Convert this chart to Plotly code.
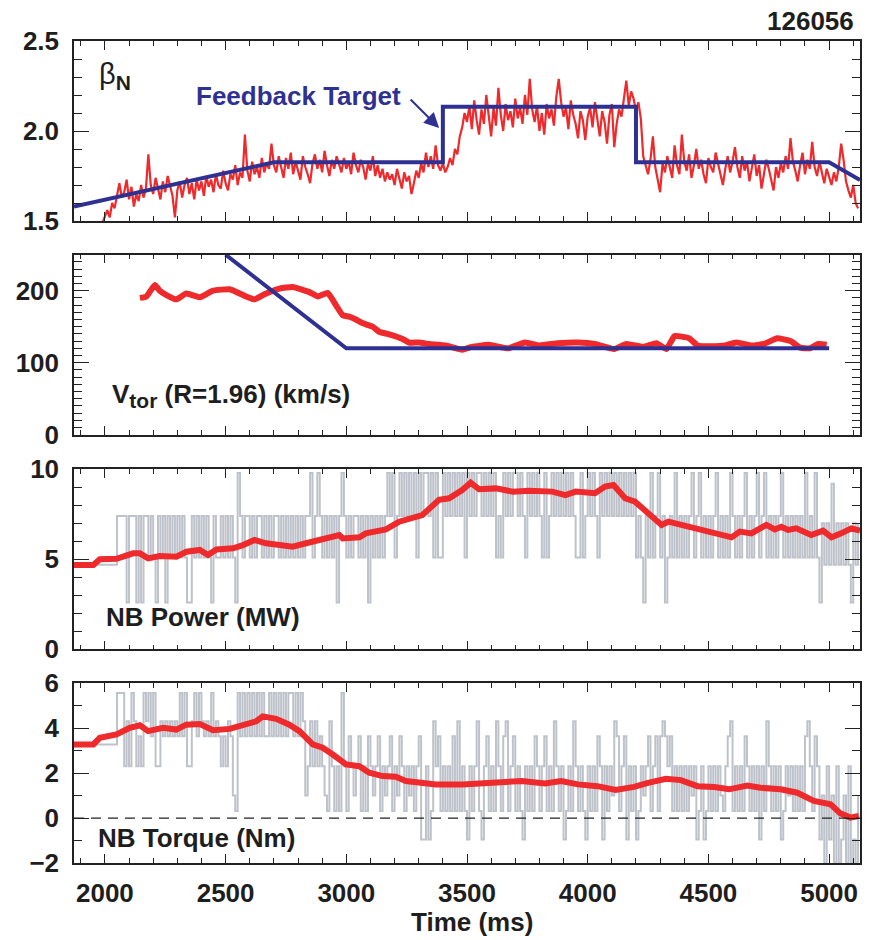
import plotly.graph_objects as go

# ---------------- data ----------------
beta_t = list(range(1990, 5121, 10))
beta_n = [
    1.49, 1.53, 1.56, 1.52, 1.60, 1.57, 1.64, 1.71, 1.63, 1.66, 1.73, 1.62, 1.69, 1.58, 1.65, 1.61, 1.70, 1.63, 1.68, 1.87,
    1.70, 1.65, 1.74, 1.68, 1.62, 1.72, 1.66, 1.75, 1.69, 1.64, 1.52, 1.67, 1.72, 1.63, 1.70, 1.74, 1.65, 1.71, 1.62, 1.73,
    1.67, 1.72, 1.64, 1.75, 1.69, 1.73, 1.66, 1.76, 1.70, 1.68, 1.78, 1.71, 1.67, 1.76, 1.73, 1.81, 1.70, 1.77, 1.74, 1.98,
    1.78, 1.72, 1.83, 1.76, 1.80, 1.74, 1.85, 1.77, 1.82, 1.79, 1.93, 1.81, 1.77, 1.86, 1.80, 1.74, 1.85, 1.79, 1.88, 1.76,
    1.83, 1.78, 1.73, 1.86, 1.80, 1.76, 1.71, 1.82, 1.87, 1.79, 1.84, 1.77, 1.89, 1.81, 1.75, 1.84, 1.79, 1.86, 1.82, 1.77,
    1.85, 1.79, 1.83, 1.76, 1.88, 1.81, 1.77, 1.84, 1.80, 1.73, 1.82, 1.78, 1.86, 1.75, 1.81, 1.74, 1.79, 1.72, 1.77, 1.73,
    1.76, 1.70, 1.79, 1.73, 1.68, 1.77, 1.72, 1.75, 1.65, 1.71, 1.78, 1.74, 1.82, 1.77, 1.88, 1.80, 1.86, 1.79, 1.92, 1.81,
    1.78, 1.82, 1.77, 1.80, 1.85, 1.81, 1.90, 1.87, 1.97, 2.02, 2.10, 2.05, 2.14, 2.01, 2.17, 2.06, 1.98, 2.12, 2.04, 2.20,
    2.08, 1.97, 2.13, 2.03, 2.24, 2.09, 2.00, 2.15, 2.06, 2.11, 2.02, 2.18, 2.07, 2.13, 2.04, 2.20, 2.09, 2.29, 2.12, 2.05,
    2.14, 2.00, 2.10, 1.98, 2.15, 2.07, 2.12, 2.03, 2.19, 2.29, 2.16, 2.08, 2.13, 2.01, 2.17, 2.09, 2.04, 1.96, 2.11, 2.06,
    1.95, 2.08, 2.13, 2.02, 2.16, 2.07, 1.97, 2.11, 2.05, 1.93, 2.09, 2.15, 1.91, 2.04, 2.12, 2.08, 2.17, 2.28, 2.14, 2.22,
    2.18, 2.11, 2.16, 2.07, 1.86, 1.81, 1.76, 1.84, 1.97, 1.80, 1.73, 1.66, 1.82, 1.77, 1.86, 1.79, 1.74, 1.92, 1.81, 1.76,
    1.98, 1.83, 1.78, 1.87, 1.74, 1.81, 1.90, 1.79, 1.84, 1.76, 1.71, 1.85, 1.80, 1.77, 1.88, 1.82, 1.75, 1.70, 1.79, 1.86,
    1.77, 1.83, 1.91, 1.80, 1.74, 1.86, 1.78, 1.83, 1.72, 1.79, 1.87, 1.75, 1.81, 1.68, 1.76, 1.84, 1.79, 1.73, 1.67, 1.80,
    1.74, 1.82, 1.77, 1.86, 1.79, 1.96, 1.83, 1.78, 1.72, 1.81, 1.88, 1.76, 1.84, 1.79, 1.94, 1.80, 1.75, 1.83, 1.77, 1.71,
    1.79, 1.74, 1.70, 1.77, 1.72, 1.80, 1.93, 1.84, 1.72, 1.67, 1.63, 1.70, 1.60, 1.57,
]
beta_target_t = [1872, 2700, 3400, 3400, 4200, 4200, 5000, 5128]
beta_target = [1.58, 1.826, 1.826, 2.135, 2.135, 1.826, 1.826, 1.728]

vtor_t = [2145, 2172, 2207, 2227, 2255, 2296, 2337, 2393, 2448, 2517,
          2585, 2620, 2661, 2723, 2778, 2847, 2882, 2923, 2957, 2985,
          3012, 3040, 3067, 3109, 3136, 3171, 3233, 3260, 3302, 3343,
          3411, 3480, 3520, 3590, 3670, 3740, 3800, 3876, 3960, 4030,
          4110, 4160, 4230, 4285, 4326, 4360, 4420, 4455, 4510, 4570,
          4615, 4680, 4730, 4785, 4840, 4880, 4920, 4955, 4990]
vtor = [190, 192, 208, 200, 194, 188, 196, 191, 200, 202,
        192, 188, 195, 203, 205, 198, 192, 197, 180, 166,
        164, 160, 155, 150, 143, 140, 133, 128, 128, 126,
        124, 118, 122, 125, 120, 128, 124, 127, 128, 126,
        119, 126, 122, 127, 119, 137, 134, 124, 123, 124,
        128, 124, 126, 134, 130, 121, 120, 126, 125]
vtor_target_t = [2500, 3000, 5000]
vtor_target = [250, 120, 120]

pnb_t = [1872, 1952, 1979, 2048, 2117, 2145, 2179, 2227, 2296, 2338,
         2393, 2427, 2462, 2531, 2572, 2620, 2668, 2737, 2778, 2833,
         2875, 2916, 2944, 2971, 2985, 3054, 3081, 3164, 3219, 3260,
         3315, 3343, 3384, 3426, 3480, 3515, 3550, 3620, 3690, 3757,
         3853, 3908, 3950, 4030, 4072, 4107, 4155, 4196, 4251, 4306,
         4334, 4417, 4486, 4540, 4596, 4630, 4678, 4740, 4775, 4802,
         4830, 4864, 4926, 4975, 5010, 5050, 5092, 5128]
pnb = [4.68, 4.68, 5.00, 5.03, 5.33, 5.33, 5.05, 5.18, 5.14, 5.42,
       5.52, 5.24, 5.55, 5.61, 5.79, 6.07, 5.89, 5.79, 5.70, 5.89,
       6.03, 6.10, 6.22, 6.35, 6.16, 6.22, 6.44, 6.66, 7.09, 7.27,
       7.46, 7.80, 8.30, 8.39, 8.85, 9.26, 8.89, 8.94, 8.76, 8.81,
       8.76, 8.57, 8.76, 8.67, 9.04, 9.13, 8.39, 8.20, 7.55, 6.91,
       7.09, 6.81, 6.54, 6.35, 6.22, 6.54, 6.44, 6.91, 6.66, 6.81,
       6.63, 6.72, 6.35, 6.59, 6.22, 6.44, 6.72, 6.59]

# raw (grey) NB power, one level code per 10 ms bin from 1870 ms
pnb_raw_t = list(range(1870, 5121, 10))
pnb_raw_codes = (
    "111111111111111111" "3333" "033303033" "2320323032323232003"
    "2323232032" "2323232043" "2332323323" "2323323232" "3232323342"
    "3432323230" "3432323323" "2303232323" "4342343434" "3424344342"
    "4224343434" "3424343443" "4343423243" "4344343243" "4343242343"
    "4343434322" "4234343243" "4343434343" "4342320324" "2342302324"
    "2323234234" "2323234232" "3243232342" "3234234232" "3234232323"
    "2324232420" "6161716161" "610616"
)
pnb_levels = {"0": 2.6, "1": 4.7, "2": 5.1, "3": 7.4, "4": 9.8, "6": 7.0, "7": 9.2}

tnb_t = [1872, 1952, 1979, 2048, 2103, 2145, 2179, 2241, 2296, 2337,
         2393, 2448, 2517, 2572, 2627, 2654, 2709, 2764, 2806, 2861,
         2902, 2944, 2999, 3054, 3095, 3150, 3205, 3247, 3302, 3371,
         3480, 3617, 3727, 3823, 3890, 3960, 4040, 4116, 4192, 4250,
         4324, 4386, 4455, 4524, 4586, 4661, 4716, 4799, 4868, 4937,
         5006, 5047, 5088, 5123]
tnb = [3.28, 3.28, 3.57, 3.72, 4.02, 4.13, 3.87, 4.02, 3.94, 4.16,
       4.19, 3.91, 3.97, 4.16, 4.31, 4.53, 4.42, 4.16, 3.87, 3.28,
       3.13, 2.83, 2.39, 2.31, 2.02, 1.87, 1.84, 1.65, 1.57, 1.50,
       1.50, 1.60, 1.65, 1.54, 1.65, 1.50, 1.42, 1.25, 1.39, 1.57,
       1.75, 1.69, 1.42, 1.38, 1.28, 1.45, 1.35, 1.28, 1.13, 0.76,
       0.61, 0.21, 0.02, 0.09]

tnb_raw_t = list(range(1870, 5121, 10))
tnb_raw_codes = (
    "555555555555555555" "888" "4748746487" "8684476767676868447"
    "8687676867" "6464763286" "8686868686" "6868686868" "8686873474"
    "7464327424" "2842643462" "4264346243" "4624364243" "4246114127"
    "4624242627" "2421424721" "4624274267" "2462421424" "2642462427"
    "4241242742" "4214242641" "4243762461" "4241243462" "4626764624"
    "2424243412" "4124242432" "4672424264" "2424142742" "4241243424"
    "2426742641" "3041304013" "040103"
)
tnb_levels = {"0": -2.0, "1": -0.95, "2": 0.31, "3": 1.0, "4": 2.31,
              "5": 3.28, "6": 3.64, "7": 4.31, "8": 5.57}

x_range = [1872, 5128]

# ---------------- styles ----------------
RED = "#EE2A2C"
BLUE = "#2E3192"
GREY = "#BEC2CA"
INK = "#1e1e1e"
FONT = "Liberation Sans, Arial, Helvetica, sans-serif"

pnb_raw = [pnb_levels[c] for c in pnb_raw_codes]
tnb_raw = [tnb_levels[c] for c in tnb_raw_codes]

fig = go.Figure()

# panel 1
fig.add_trace(go.Scatter(x=beta_t, y=beta_n, mode="lines",
                         line=dict(color=RED, width=2.2), xaxis="x", yaxis="y"))
fig.add_trace(go.Scatter(x=beta_target_t, y=beta_target, mode="lines",
                         line=dict(color=BLUE, width=4), xaxis="x", yaxis="y"))
# panel 2
fig.add_trace(go.Scatter(x=vtor_t, y=vtor, mode="lines",
                         line=dict(color=RED, width=6, shape="spline", smoothing=0.4),
                         xaxis="x2", yaxis="y2"))
fig.add_trace(go.Scatter(x=vtor_target_t, y=vtor_target, mode="lines",
                         line=dict(color=BLUE, width=4), xaxis="x2", yaxis="y2"))
# panel 3
fig.add_trace(go.Scatter(x=pnb_raw_t, y=pnb_raw, mode="lines",
                         line=dict(color=GREY, width=2, shape="hv"), xaxis="x3", yaxis="y3"))
fig.add_trace(go.Scatter(x=pnb_t, y=pnb, mode="lines",
                         line=dict(color=RED, width=6), xaxis="x3", yaxis="y3"))
# panel 4
fig.add_trace(go.Scatter(x=tnb_raw_t, y=tnb_raw, mode="lines",
                         line=dict(color=GREY, width=2, shape="hv"), xaxis="x4", yaxis="y4"))
fig.add_trace(go.Scatter(x=tnb_t, y=tnb, mode="lines",
                         line=dict(color=RED, width=6), xaxis="x4", yaxis="y4"))

tickfont = dict(family=FONT, size=26, color=INK, weight="bold")

def xaxis_cfg(anchor, labels):
    return dict(range=x_range, anchor=anchor, showline=True, linecolor="#222",
                linewidth=1.5, mirror="ticks", ticks="inside", ticklen=9,
                tickwidth=1.2, tickcolor="#222", dtick=500, tick0=0,
                minor=dict(dtick=100, ticks="inside", ticklen=5, tickcolor="#222", tickwidth=1),
                showgrid=False, zeroline=False, showticklabels=labels,
                tickfont=tickfont, ticklabelstandoff=6)

def yaxis_cfg(domain, rng, dtick, mdtick, fmt=None):
    d = dict(domain=domain, range=rng, showline=True, linecolor="#222",
             linewidth=1.5, mirror="ticks", ticks="inside", ticklen=15,
             tickwidth=1.2, tickcolor="#222", dtick=dtick, tick0=0,
             minor=dict(dtick=mdtick, ticks="inside", ticklen=8, tickcolor="#222", tickwidth=1),
             showgrid=False, zeroline=False, tickfont=tickfont,
             ticklabelstandoff=8)
    if fmt:
        d["tickformat"] = fmt
    return d

fig.update_layout(
    width=871, height=940,
    margin=dict(l=74, r=9, t=41, b=77),
    plot_bgcolor="white", paper_bgcolor="white",
    showlegend=False,
    font=dict(family=FONT, size=26, color=INK),
    xaxis=xaxis_cfg("y", False),
    xaxis2=xaxis_cfg("y2", False),
    xaxis3=xaxis_cfg("y3", False),
    xaxis4=xaxis_cfg("y4", True),
    yaxis=yaxis_cfg([0.78102, 1.0], [1.5, 2.5], 0.5, 0.1, ".1f"),
    yaxis2=yaxis_cfg([0.52105, 0.74002], [0, 250], 100, 10),
    yaxis3=yaxis_cfg([0.26, 0.47895], [0, 10], 5, 1),
    yaxis4=yaxis_cfg([0.0, 0.21861], [-2, 6], 2, 1),
)
fig.layout.yaxis4.tickvals = [-2, 0, 2, 4, 6]
fig.layout.yaxis4.ticktext = ["\u22122", "0", "2", "4", "6"]

# zero dashed line in torque panel
fig.add_shape(type="line", xref="x4 domain", yref="y4", x0=0, x1=1, y0=0, y1=0,
              line=dict(color="#222", width=1.2, dash="10px,7px"))

ann = dict(xref="paper", yref="paper", showarrow=False,
           font=dict(family=FONT, size=26, color=INK, weight="bold"))
fig.add_annotation(text="126056", x=0.9949, y=1.0243, xanchor="right", yanchor="middle", **ann)
fig.add_annotation(text="β<sub><span style='font-size:21px'><b>N</b></span></sub>",
                   x=0.0292, y=0.957, xanchor="left",
                   yanchor="middle", xref="paper", yref="paper", showarrow=False,
                   font=dict(family=FONT, size=29, color=INK))
fig.add_annotation(text="Feedback Target", x=0.1523, y=0.9331, xanchor="left", yanchor="middle",
                   xref="paper", yref="paper", showarrow=False,
                   font=dict(family=FONT, size=26, color=BLUE, weight="bold"))
fig.add_annotation(text="", x=0.4645, y=0.8942, xref="paper", yref="paper",
                   showarrow=True, ax=-30, ay=-30, arrowhead=2, arrowsize=1.5,
                   arrowwidth=2, arrowcolor=BLUE)
fig.add_annotation(text="V<sub><span style='font-size:21px'>tor</span></sub> (R=1.96) (km/s)",
                   x=0.0457, y=0.5693, xanchor="left", yanchor="middle", **ann)
fig.add_annotation(text="NB Power (MW)", x=0.0381, y=0.2993, xanchor="left", yanchor="middle", **ann)
fig.add_annotation(text="NB Torque (Nm)", x=0.0279, y=0.0304, xanchor="left", yanchor="middle", **ann)
fig.add_annotation(text="Time (ms)", x=0.5063, y=-0.0718, xanchor="center", yanchor="middle", **ann)

fig.write_html("out.html")
